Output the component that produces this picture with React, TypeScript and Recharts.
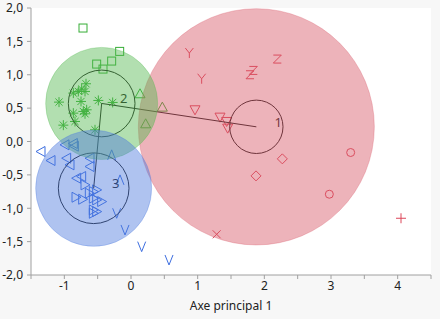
import React from 'react'
import {
  ScatterChart, Scatter, XAxis, YAxis, CartesianGrid,
} from 'recharts'

type Pt = { x: number; y: number }

// axis ranges and ticks
const X_MIN = -1.5
const X_MAX = 4.5
const Y_MIN = -2
const Y_MAX = 2
const xTicks = [-1.5, -1, -0.5, 0, 0.5, 1, 1.5, 2, 2.5, 3, 3.5, 4, 4.5]
const yTicks = [-2, -1.5, -1, -0.5, 0, 0.5, 1, 1.5, 2]

// clusters: centre, outer spread circle, inner core circle
const clusterIds = [1, 2, 3]
const clusterX = [1.88, -0.44, -0.56]
const clusterY = [0.22, 0.57, -0.70]
const clusterSpread = [1.77, 0.84, 0.87]
const clusterCore = [0.40, 0.50, 0.53]

// observations, grouped by marker
const greenSquares: Pt[] = [
  { x: -0.72, y: 1.70 }, { x: -0.515, y: 1.16 }, { x: -0.42, y: 1.085 },
  { x: -0.29, y: 1.205 }, { x: -0.17, y: 1.35 },
]
const greenStars: Pt[] = [
  { x: -1.08, y: 0.59 }, { x: -1.015, y: 0.245 }, { x: -0.865, y: 0.425 },
  { x: -0.865, y: 0.725 }, { x: -0.79, y: 0.75 }, { x: -0.74, y: 0.785 },
  { x: -0.675, y: 0.865 }, { x: -0.69, y: 0.75 }, { x: -0.75, y: 0.60 },
  { x: -0.715, y: 0.45 }, { x: -0.665, y: 0.475 }, { x: -0.69, y: 0.415 },
  { x: -0.84, y: 0.30 }, { x: -0.49, y: 0.615 }, { x: -0.275, y: 0.585 },
  { x: -0.54, y: 0.175 },
]
const greenUps: Pt[] = [
  { x: 0.135, y: 0.715 }, { x: 0.47, y: 0.515 }, { x: 0.22, y: 0.265 },
]
const blueLefts: Pt[] = [
  { x: -1.35, y: -0.15 }, { x: -1.2, y: -0.285 }, { x: -0.99, y: -0.05 },
  { x: -0.865, y: -0.03 }, { x: -0.85, y: -0.07 }, { x: -0.965, y: -0.25 },
  { x: -0.915, y: -0.35 }, { x: -0.615, y: -0.25 }, { x: -0.615, y: -0.375 },
  { x: -0.815, y: -0.55 }, { x: -0.74, y: -0.525 },
]
const blueRights: Pt[] = [
  { x: -0.825, y: -0.835 }, { x: -0.725, y: -0.865 }, { x: -0.69, y: -0.65 },
  { x: -0.625, y: -0.775 }, { x: -0.565, y: -0.75 }, { x: -0.515, y: -0.725 },
  { x: -0.565, y: -0.85 }, { x: -0.515, y: -0.875 }, { x: -0.44, y: -0.90 },
  { x: -0.565, y: -1.025 }, { x: -0.515, y: -1.05 }, { x: -0.565, y: -1.075 },
]
const blueCaretUps: Pt[] = [{ x: -0.29, y: -0.20 }, { x: -0.165, y: -0.575 }]
const blueCaretDowns: Pt[] = [
  { x: -0.215, y: -1.075 }, { x: -0.09, y: -1.325 },
  { x: 0.16, y: -1.575 }, { x: 0.57, y: -1.775 },
]
const redYs: Pt[] = [{ x: 0.875, y: 1.325 }, { x: 1.06, y: 0.94 }]
const redZs: Pt[] = [{ x: 2.195, y: 1.235 }, { x: 1.835, y: 1.065 }, { x: 1.785, y: 1.0 }]
const redDowns: Pt[] = [
  { x: 0.96, y: 0.475 }, { x: 1.335, y: 0.365 }, { x: 1.435, y: 0.30 }, { x: 1.45, y: 0.20 },
]
const redDiamonds: Pt[] = [{ x: 2.27, y: -0.26 }, { x: 1.875, y: -0.515 }]
const redCircles: Pt[] = [{ x: 3.295, y: -0.165 }, { x: 2.975, y: -0.79 }]
const redPluses: Pt[] = [{ x: 4.05, y: -1.15 }]
const redCrosses: Pt[] = [{ x: 1.285, y: -1.39 }]

const W = 440
const H = 319
const MARGIN = { top: 8, right: 9, left: 0, bottom: 0 }
const Y_AXIS_W = 31
const X_AXIS_H = 44
const PLOT_W = W - MARGIN.left - MARGIN.right - Y_AXIS_W
const PLOT_H = H - MARGIN.top - MARGIN.bottom - X_AXIS_H
const KX = PLOT_W / (X_MAX - X_MIN)
const KY = PLOT_H / (Y_MAX - Y_MIN)

const FILL: Record<number, string> = { 1: '#d75666', 2: '#54b850', 3: '#4d7ade' }
const RED = '#dc4659'
const GREEN = '#36ad36'
const BLUE = '#3d6ee0'
const FRAME = '#a0a0a0'
const FONT = '"Noto Sans", "DejaVu Sans", sans-serif'

const clusters = clusterIds.map((id, i) => ({
  id, x: clusterX[i], y: clusterY[i], spread: clusterSpread[i], core: clusterCore[i],
}))

function Marker({ cx, cy, kind, color }: { cx: number; cy: number; kind: string; color: string }) {
  const p = { fill: 'none', stroke: color, strokeWidth: 1 }
  switch (kind) {
    case 'square':
      return <rect x={cx - 4} y={cy - 4} width={8} height={8} {...p} />
    case 'star':
      return <path d={`M${cx - 5},${cy}H${cx + 5}M${cx},${cy - 5}V${cy + 5}M${cx - 3.6},${cy - 3.6}L${cx + 3.6},${cy + 3.6}M${cx - 3.6},${cy + 3.6}L${cx + 3.6},${cy - 3.6}`} {...p} />
    case 'up':
      return <path d={`M${cx},${cy - 5}L${cx + 5},${cy + 4}L${cx - 5},${cy + 4}Z`} {...p} />
    case 'down':
      return <path d={`M${cx - 5},${cy - 4}L${cx + 5},${cy - 4}L${cx},${cy + 5}Z`} {...p} />
    case 'left':
      return <path d={`M${cx - 5},${cy}L${cx + 4},${cy - 5}L${cx + 4},${cy + 5}Z`} {...p} />
    case 'right':
      return <path d={`M${cx + 5},${cy}L${cx - 4},${cy - 5}L${cx - 4},${cy + 5}Z`} {...p} />
    case 'caretUp':
      return <path d={`M${cx - 4},${cy + 5}L${cx},${cy - 5}L${cx + 4},${cy + 5}`} {...p} />
    case 'caretDown':
      return <path d={`M${cx - 4},${cy - 5}L${cx},${cy + 5}L${cx + 4},${cy - 5}`} {...p} />
    case 'Y':
      return <path d={`M${cx - 4},${cy - 5}L${cx},${cy}L${cx + 4},${cy - 5}M${cx},${cy}V${cy + 5}`} {...p} />
    case 'Z':
      return <path d={`M${cx - 4},${cy - 4}H${cx + 4}L${cx - 4},${cy + 4}H${cx + 4}`} {...p} />
    case 'diamond':
      return <path d={`M${cx},${cy - 5}L${cx + 5},${cy}L${cx},${cy + 5}L${cx - 5},${cy}Z`} {...p} />
    case 'circle':
      return <circle cx={cx} cy={cy} r={4} {...p} />
    case 'plus':
      return <path d={`M${cx - 5},${cy}H${cx + 5}M${cx},${cy - 5}V${cy + 5}`} {...p} />
    case 'cross':
      return <path d={`M${cx - 4},${cy - 4}L${cx + 4},${cy + 4}M${cx - 4},${cy + 4}L${cx + 4},${cy - 4}`} {...p} />
    default:
      return <g />
  }
}

const series: { key: string; data: Pt[]; kind: string; color: string }[] = [
  { key: 'gsq', data: greenSquares, kind: 'square', color: GREEN },
  { key: 'gst', data: greenStars, kind: 'star', color: GREEN },
  { key: 'gup', data: greenUps, kind: 'up', color: GREEN },
  { key: 'blf', data: blueLefts, kind: 'left', color: BLUE },
  { key: 'brt', data: blueRights, kind: 'right', color: BLUE },
  { key: 'bcu', data: blueCaretUps, kind: 'caretUp', color: BLUE },
  { key: 'bcd', data: blueCaretDowns, kind: 'caretDown', color: BLUE },
  { key: 'ry', data: redYs, kind: 'Y', color: RED },
  { key: 'rz', data: redZs, kind: 'Z', color: RED },
  { key: 'rdn', data: redDowns, kind: 'down', color: RED },
  { key: 'rdi', data: redDiamonds, kind: 'diamond', color: RED },
  { key: 'rci', data: redCircles, kind: 'circle', color: RED },
  { key: 'rpl', data: redPluses, kind: 'plus', color: RED },
  { key: 'rcr', data: redCrosses, kind: 'cross', color: RED },
]

const fmtY = (v: number) => v.toFixed(1).replace('.', ',')
const fmtX = (v: number) => (Number.isInteger(v) ? String(v) : '')

export default function App() {
  return (
    <div style={{ position: 'absolute', left: 0, top: 0, width: W, height: H, background: '#f7f7f7' }}>
      <ScatterChart width={W} height={H} margin={MARGIN}>
        <CartesianGrid fill="#ffffff" horizontal={false} vertical={false} />
        <XAxis
          type="number" dataKey="x" domain={[X_MIN, X_MAX]} ticks={xTicks}
          allowDataOverflow tickFormatter={fmtX} height={X_AXIS_H}
          stroke={FRAME} tickSize={4} interval={0}
          tick={{ fontSize: 12, fill: '#222', fontFamily: FONT }}
          label={{ value: 'Axe principal 1', position: 'insideBottom', offset: 9, fontSize: 12, fill: '#222', fontFamily: FONT }}
        />
        <XAxis xAxisId="top" orientation="top" type="number" domain={[X_MIN, X_MAX]} height={0} tick={false} tickLine={false} stroke={FRAME} />
        <YAxis
          type="number" dataKey="y" domain={[Y_MIN, Y_MAX]} ticks={yTicks}
          allowDataOverflow tickFormatter={fmtY} width={Y_AXIS_W}
          stroke={FRAME} tickSize={4} tickMargin={4} interval={0}
          tick={{ fontSize: 12, fill: '#222', fontFamily: FONT }}
        />
        <YAxis yAxisId="right" orientation="right" type="number" domain={[Y_MIN, Y_MAX]} width={0} tick={false} tickLine={false} stroke={FRAME} />

        {series.map(s => (
          <Scatter
            key={s.key} data={s.data} isAnimationActive={false}
            shape={(p: any) => <Marker cx={p.cx} cy={p.cy} kind={s.kind} color={s.color} />}
          />
        ))}

        {/* core circles and cluster numbers */}
        <Scatter
          data={clusters} isAnimationActive={false}
          shape={(p: any) => (
            <g>
              <ellipse cx={p.cx} cy={p.cy} rx={p.payload.core * KX} ry={p.payload.core * KY} fill="none" stroke="#1a1a1a" strokeWidth={1} />
              <text x={p.cx + 22} y={p.cy - 5} textAnchor="middle" dominantBaseline="central" fontSize={13} fill="#1a1a1a" fontFamily={FONT}>{p.payload.id}</text>
            </g>
          )}
        />
        {/* joins between cluster centres */}
        <Scatter
          data={clusters} isAnimationActive={false}
          line={{ stroke: '#1a1a1a', strokeWidth: 1 }}
          shape={() => <g />}
        />
        {/* spread circles */}
        <Scatter
          data={clusters} isAnimationActive={false}
          shape={(p: any) => (
            <ellipse
              cx={p.cx} cy={p.cy} rx={p.payload.spread * KX} ry={p.payload.spread * KY}
              fill={FILL[p.payload.id]} fillOpacity={0.45}
              stroke={FILL[p.payload.id]} strokeOpacity={0.3}
            />
          )}
        />
      </ScatterChart>
    </div>
  )
}
